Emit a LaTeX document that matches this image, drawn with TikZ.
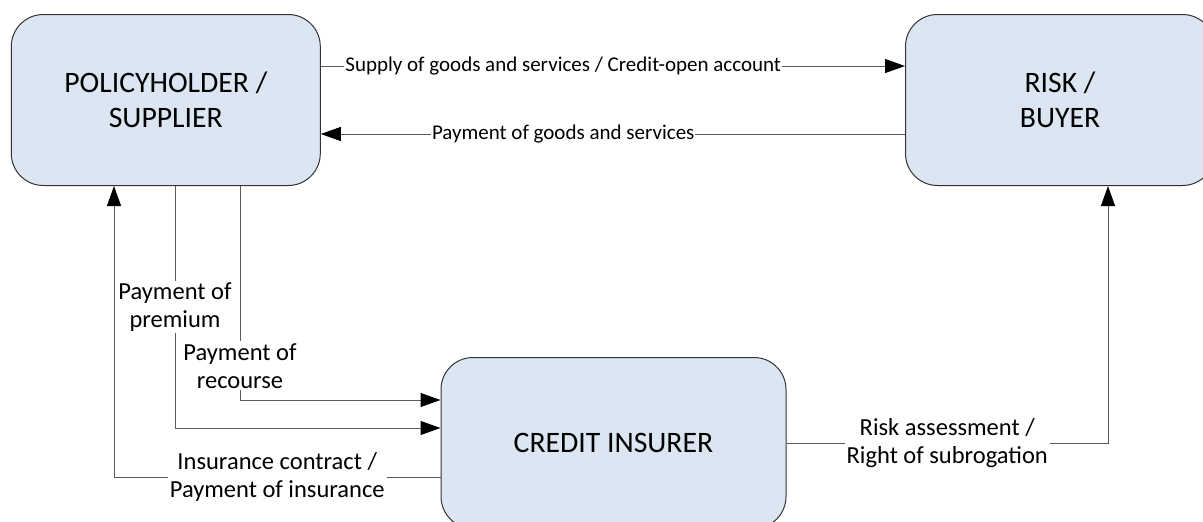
\documentclass[tikz,border=0pt]{standalone}
\usepackage{fontspec}
\setmainfont{Carlito}
\usetikzlibrary{arrows.meta}
\definecolor{boxblue}{RGB}{220,230,242}
\definecolor{linegray}{RGB}{90,90,90}
\tikzstyle{party} = [rectangle, rounded corners=32pt, minimum width=309pt, minimum height=171pt, text centered, align=center, draw=black!80, fill=boxblue, line width=1pt, font=\fontsize{29.7}{35}\selectfont]
\tikzstyle{flow} = [draw=linegray, line width=1pt, -{Triangle[length=20pt,width=14pt,color=black]}]
\tikzstyle{flowlabel} = [fill=white, inner sep=2pt, align=center, font=\fontsize{24.5}{28}\selectfont]
\tikzstyle{toplabel} = [flowlabel, inner sep=1pt, font=\fontsize{21}{26}\selectfont]

\begin{document}
\begin{tikzpicture}[x=1pt, y=-1pt]
\useasboundingbox (0,0) rectangle (1203,522);

\node (policyholder) [party] at (165.8,100) {POLICYHOLDER /\\SUPPLIER};
\node (buyer) [party] at (1060,100) {RISK /\\BUYER};
\node (insurer) [party, minimum width=345pt] at (613.5,443) {CREDIT INSURER};

\draw [flow] ([yshift=34pt]policyholder.east) -- node[toplabel, pos=0.415] {Supply of goods and services / Credit-open account} ([yshift=34pt]buyer.west);
\draw [flow] ([yshift=-34pt]buyer.west) -- node[toplabel, pos=0.585] {Payment of goods and services} ([yshift=-34pt]policyholder.east);
\draw [flow] ([xshift=9.2pt]policyholder.south) |- node[flowlabel, pos=0.25] {Payment of\\premium} ([yshift=15pt]insurer.west);
\draw [flow] ([xshift=74.2pt]policyholder.south) |- node[flowlabel, pos=0.42] {Payment of\\recourse} ([yshift=43pt]insurer.west);
\draw [flow] ([yshift=-34pt]insurer.west) -| node[flowlabel, pos=0.25] {Insurance contract /\\Payment of insurance} ([xshift=-51.8pt]policyholder.south);
\draw [flow] (insurer.east) -| node[flowlabel, pos=0.25] {Risk assessment /\\Right of subrogation} ([xshift=48pt]buyer.south);

\end{tikzpicture}
\end{document}
